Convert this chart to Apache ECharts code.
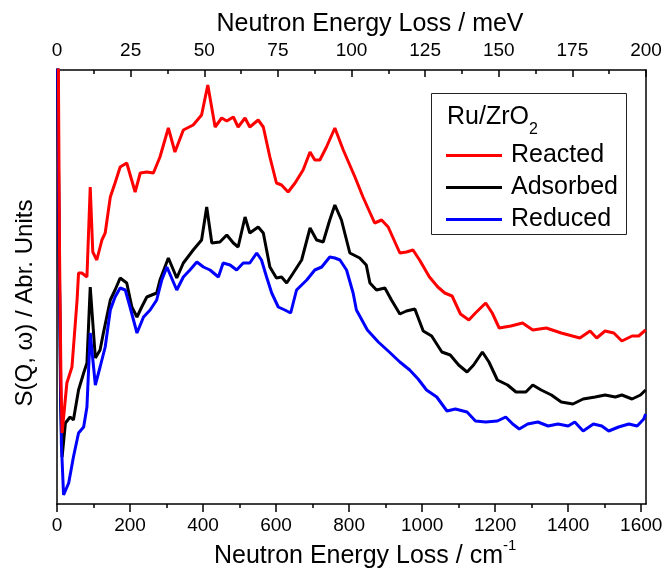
<!DOCTYPE html>
<html>
<head>
<meta charset="utf-8">
<script src="https://cdn.jsdelivr.net/npm/echarts@6/dist/echarts.min.js"></script>
<style>html,body{margin:0;padding:0;background:#fff}#c{width:666px;height:577px}</style>
</head>
<body>
<div id="c"></div>
<script>
// Neutron energy loss (cm^-1) vs S(Q,w) in arbitrary units
const reacted = [[3,480],[7,250],[11,120],[14,71],[20,94],[27,121],[41,137],[55,204],[59,231],[68,231],[82,227],[91,317],[98,252],[109,244],[123,264],[132,271],[146,307],[159,321],[173,337],[191,341],[214,312],[228,331],[246,332],[264,331],[282,347],[305,376],[323,352],[346,374],[373,379],[396,389],[413,419],[433,377],[451,386],[465,383],[483,387],[496,377],[515,386],[528,377],[551,384],[565,377],[583,347],[601,321],[615,319],[633,312],[652,321],[674,334],[693,352],[706,344],[720,344],[738,357],[761,376],[784,354],[816,327],[838,307],[870,281],[889,284],[907,277],[939,251],[957,252],[975,254],[993,244],[1020,227],[1043,217],[1062,211],[1082,208],[1105,190],[1128,184],[1146,191],[1174,201],[1192,191],[1211,176],[1243,178],[1275,181],[1303,174],[1340,176],[1381,171],[1432,166],[1460,173],[1478,166],[1501,173],[1525,171],[1547,163],[1575,168],[1593,168],[1612,174]];
const adsorbed = [[1,480],[6,250],[10,100],[14,47],[23,81],[36,87],[45,84],[59,114],[73,131],[82,141],[91,217],[105,146],[118,154],[127,171],[146,204],[159,214],[173,226],[191,221],[205,197],[219,187],[232,197],[246,207],[273,211],[282,224],[305,246],[328,226],[346,241],[373,254],[396,264],[410,297],[424,261],[446,262],[465,269],[483,261],[496,257],[515,287],[528,271],[551,277],[565,271],[583,237],[601,226],[615,227],[629,221],[647,231],[670,244],[693,276],[711,264],[729,262],[747,284],[761,299],[779,284],[802,251],[829,246],[847,239],[857,221],[875,214],[898,216],[916,204],[939,190],[957,193],[980,195],[1003,173],[1026,168],[1054,152],[1077,149],[1100,139],[1123,132],[1141,139],[1165,152],[1183,142],[1206,124],[1234,119],[1257,112],[1284,112],[1303,119],[1326,114],[1354,109],[1381,102],[1413,100],[1441,105],[1474,107],[1501,109],[1529,107],[1547,109],[1575,105],[1598,109],[1612,114]];
const reduced = [[1,480],[6,250],[12,60],[18,9],[32,21],[45,47],[59,71],[73,77],[82,97],[91,171],[105,119],[118,137],[132,157],[146,194],[159,207],[173,216],[187,214],[200,197],[219,171],[237,187],[255,194],[273,204],[287,224],[301,237],[328,214],[346,227],[364,234],[383,242],[401,237],[419,234],[442,227],[455,241],[474,239],[492,234],[510,241],[528,241],[547,251],[560,244],[574,227],[588,211],[606,197],[624,194],[640,191],[656,214],[684,224],[706,234],[725,237],[747,247],[761,246],[775,244],[793,234],[811,211],[820,194],[850,174],[880,162],[910,152],[939,142],[966,134],[989,125],[1012,114],[1040,107],[1068,93],[1091,95],[1123,92],[1146,83],[1174,82],[1206,83],[1229,87],[1248,80],[1266,75],[1289,80],[1317,82],[1345,78],[1372,80],[1400,78],[1418,82],[1441,73],[1469,80],[1492,78],[1511,73],[1538,77],[1566,80],[1589,78],[1607,85],[1612,90]];
const seriesNames = ['Reacted','Adsorbed','Reduced'];
const seriesColors = ['#ff0000','#000000','#0000ff'];
const cmMax = 1613.1;           // 200 meV in cm^-1
const meVMax = 200;
const cmMajorTicks = [0,200,400,600,800,1000,1200,1400,1600];
const cmMinorTicks = [100,300,500,700,900,1100,1300,1500];
const yMax = 434;

const FONT = "'Liberation Sans', Arial, sans-serif";
const chart = echarts.init(document.getElementById('c'), null, {renderer:'canvas'});
const axisLineStyle = {color:'#000', width:1.5};
const plain = v => String(v);
chart.setOption({
  animation:false,
  backgroundColor:'#fff',
  grid:{left:57, right:20, top:70, bottom:73, containLabel:false},
  xAxis:[
    {type:'value', position:'bottom', min:0, max:cmMax,
     axisLine:{show:true, onZero:false, lineStyle:axisLineStyle},
     axisTick:{show:true, customValues:cmMajorTicks, length:8, lineStyle:axisLineStyle},
     axisLabel:{customValues:cmMajorTicks, formatter:plain, fontSize:19, color:'#000', margin:12, fontFamily:FONT},
     splitLine:{show:false}},
    {type:'value', position:'bottom', min:0, max:cmMax,
     axisLine:{show:false, onZero:false},
     axisTick:{show:true, customValues:cmMinorTicks, length:4, lineStyle:axisLineStyle},
     axisLabel:{show:false}, splitLine:{show:false}},
    {type:'value', position:'top', min:0, max:meVMax, interval:25,
     axisLine:{show:true, onZero:false, lineStyle:axisLineStyle},
     axisTick:{show:true, inside:true, length:7, lineStyle:axisLineStyle},
     minorTick:{show:true, splitNumber:2, length:4, lineStyle:axisLineStyle},
     axisLabel:{formatter:plain, fontSize:19, color:'#000', margin:10, fontFamily:FONT},
     splitLine:{show:false}}
  ],
  yAxis:[
    {type:'value', position:'left', min:0, max:yMax,
     axisLine:{show:true, onZero:false, lineStyle:axisLineStyle},
     axisTick:{show:false}, axisLabel:{show:false}, splitLine:{show:false}},
    {type:'value', position:'right', min:0, max:yMax,
     axisLine:{show:true, onZero:false, lineStyle:axisLineStyle},
     axisTick:{show:false}, axisLabel:{show:false}, splitLine:{show:false}}
  ],
  legend:{
    orient:'vertical', left:446, top:143, padding:0,
    itemWidth:56, itemHeight:3, itemGap:7, icon:'rect',
    textStyle:{fontSize:25, color:'#000', fontFamily:FONT, padding:[0,0,0,4]},
    data:seriesNames
  },
  series:[adsorbed, reduced, reacted].map((d,k)=>{
    const i = [1,2,0][k];
    return {
      name:seriesNames[i], type:'line', data:d, xAxisIndex:0, yAxisIndex:0,
      showSymbol:false, symbol:'none', clip:true,
      lineStyle:{color:seriesColors[i], width:3}, itemStyle:{color:seriesColors[i]}
    };
  }),
  graphic:[
    {type:'rect', shape:{x:431.5, y:93.5, width:195, height:141}, style:{fill:'none', stroke:'#222', lineWidth:1}, z:5},
    {type:'text', x:447, y:117, style:{text:'Ru/ZrO', font:'25px '+FONT, fill:'#000', verticalAlign:'middle', align:'left'}, z:6},
    {type:'text', x:529, y:130, style:{text:'2', font:'16px '+FONT, fill:'#000', verticalAlign:'middle', align:'left'}, z:6},
    {type:'text', x:370, y:24, style:{text:'Neutron Energy Loss / meV', font:'25px '+FONT, fill:'#000', align:'center', verticalAlign:'middle'}},
    {type:'text', x:214, y:556, style:{text:'Neutron Energy Loss / cm', font:'25px '+FONT, fill:'#000', align:'left', verticalAlign:'middle'}},
    {type:'text', x:503, y:546, style:{text:'-1', font:'15px '+FONT, fill:'#000', align:'left', verticalAlign:'middle'}},
    {type:'text', x:25, y:303, rotation:Math.PI/2, style:{text:'S(Q, \u03C9) / Abr. Units', font:'24px '+FONT, fill:'#000', align:'center', verticalAlign:'middle'}}
  ]
});
</script>
</body>
</html>
